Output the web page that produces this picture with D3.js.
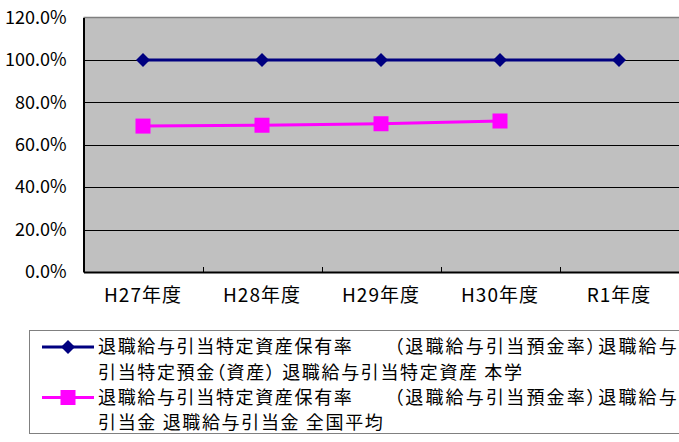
<!DOCTYPE html>
<html><head><meta charset="utf-8">
<script src="https://cdn.jsdelivr.net/npm/d3@7"></script>
<style>
body{margin:0;background:#fff;}
svg{display:block;}
text{font-family:"Noto Sans CJK JP","Noto Sans",sans-serif;fill:#000;}
</style></head><body>
<svg id="c" width="679" height="442"></svg>
<script>
const categories = ["H27年度","H28年度","H29年度","H30年度","R1年度"];
const seriesSchool = [100.0, 100.0, 100.0, 100.0, 100.0];
const seriesNational = [68.8, 69.2, 69.9, 71.2, null];
const yTicks = [0,20,40,60,80,100,120];
const legendLines = [
  ["退職給与引当特定資産保有率", "（退職給与引当預金率）退職給与", "引当特定預金（資産） 退職給与引当特定資産 本学"],
  ["退職給与引当特定資産保有率", "（退職給与引当預金率）退職給与", "引当金 退職給与引当金 全国平均"]
];

const svg = d3.select("#c");
const L = 83.5, R = 678.5, T = 17.5, B = 272;
const x = d3.scaleBand().domain(categories).range([L, R]);
const y = d3.scaleLinear().domain([0,120]).range([B, T]);

svg.append("rect").attr("x",L).attr("y",T).attr("width",R-L+2).attr("height",B-T).attr("fill","#C0C0C0");
svg.append("line").attr("x1",L).attr("x2",680).attr("y1",T).attr("y2",T).attr("stroke","#7f7f7f").attr("stroke-width",1.5);
svg.append("g").selectAll("line").data(yTicks.filter(d=>d>0 && d<120)).join("line")
  .attr("x1",L).attr("x2",680).attr("y1",d=>Math.round(y(d))+0.5).attr("y2",d=>Math.round(y(d))+0.5)
  .attr("stroke","#000").attr("stroke-width",1);

const yAxis = d3.axisLeft(y).tickValues(yTicks).tickFormat(d=>d.toFixed(1)+"%").tickSize(0).tickPadding(17);
const gy = svg.append("g").attr("transform",`translate(${L},0)`).call(yAxis);
gy.select(".domain").attr("stroke","#000").attr("stroke-width",2);
gy.selectAll("text").style("font-size","18px").style("font-family",'"Noto Sans CJK JP",sans-serif');

const xAxis = d3.axisBottom(x).tickSize(0).tickPadding(17);
const gx = svg.append("g").attr("transform",`translate(0,${B})`).call(xAxis);
gx.select(".domain").attr("stroke","#000").attr("stroke-width",2);
gx.selectAll("text").style("font-size","19px").style("letter-spacing","1px").style("font-family",'"Noto Sans CJK JP",sans-serif');
svg.append("g").selectAll("line").data(categories.slice(1)).join("line")
  .attr("x1",d=>Math.round(x(d))+0.5).attr("x2",d=>Math.round(x(d))+0.5)
  .attr("y1",B).attr("y2",B-5).attr("stroke","#000").attr("stroke-width",1);

const cx = d => x(d) + x.bandwidth()/2;

const line = d3.line().defined(d=>d.v!=null).x(d=>cx(d.c)).y(d=>y(d.v));
const s1 = categories.map((c,i)=>({c, v:seriesSchool[i]}));
const s2 = categories.map((c,i)=>({c, v:seriesNational[i]}));
svg.append("path").datum(s1).attr("d",line).attr("fill","none").attr("stroke","#000080").attr("stroke-width",3);
svg.append("path").datum(s2).attr("d",line).attr("fill","none").attr("stroke","#FF00FF").attr("stroke-width",3);

const diamond = (g, px, py) => g.append("path")
  .attr("d",`M${px},${py-7}L${px+7},${py}L${px},${py+7}L${px-7},${py}Z`).attr("fill","#000080");
const square = (g, px, py) => g.append("rect").attr("x",px-7.5).attr("y",py-7.5).attr("width",15).attr("height",15).attr("fill","#FF00FF");

const mg = svg.append("g");
s1.filter(d=>d.v!=null).forEach(d=>diamond(mg, cx(d.c), y(d.v)));
s2.filter(d=>d.v!=null).forEach(d=>square(mg, cx(d.c), y(d.v)));

const lg = svg.append("g");
lg.append("rect").attr("x",29.5).attr("y",330.5).attr("width",660).attr("height",103).attr("fill","#fff").attr("stroke","#808080").attr("stroke-width",1);
const rows = [347, 372.5, 397.5, 423];
function legendText(yy, xx, t, ls){
  lg.append("text").attr("x",xx).attr("y",yy).attr("dy","0.35em")
    .style("font-size","18px").style("letter-spacing",ls+"px")
    .style("font-feature-settings",'"palt" 1').text(t);
}
lg.append("line").attr("x1",42).attr("x2",94).attr("y1",rows[0]).attr("y2",rows[0]).attr("stroke","#000080").attr("stroke-width",3);
diamond(lg, 68, rows[0]);
legendText(rows[0], 98, legendLines[0][0], 1.65);
legendText(rows[0], 394, legendLines[0][1], 2.2);
legendText(rows[1], 98, legendLines[0][2], 1.65);
lg.append("line").attr("x1",42).attr("x2",94).attr("y1",rows[2]).attr("y2",rows[2]).attr("stroke","#FF00FF").attr("stroke-width",3);
square(lg, 68, rows[2]);
legendText(rows[2], 98, legendLines[1][0], 1.65);
legendText(rows[2], 394, legendLines[1][1], 2.2);
legendText(rows[3], 98, legendLines[1][2], 1.65);
</script>
</body></html>
